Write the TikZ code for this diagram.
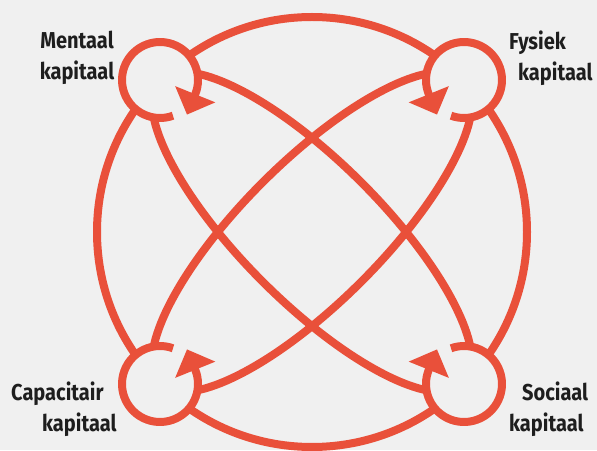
\documentclass[tikz,border=0pt]{standalone}
\usepackage{fontspec}
\newfontfamily\lblfont{Fira Sans}[FakeStretch=0.87]
\usepackage{tikz}
\usetikzlibrary{arrows.meta}
\definecolor{kred}{HTML}{E9503A}
\definecolor{kbg}{HTML}{F0F0F0}
\definecolor{ktext}{HTML}{1E1E1E}

\begin{document}
\begin{tikzpicture}[x=1pt,y=1pt,
		band/.style={draw=kred,line width=8pt},
		loopline/.style={draw=kred,line width=8pt,-{Triangle[length=22pt,width=42pt]}},
		lbl/.style={font=\lblfont\bfseries\fontsize{23}{31}\selectfont,text=ktext,inner sep=0pt}]
			\fill[kbg] (0,0) rectangle (597,450);
			\useasboundingbox (0,0) rectangle (597,450);
			\coordinate (mid) at (312,218);
			\coordinate (men) at (160,370);
			\coordinate (fys) at (464,370);
			\coordinate (cap) at (160,66);
			\coordinate (soc) at (464,66);
			% ring and the two crossing loops
			\draw[band] (mid) circle[radius=215];
			\draw[band,rotate around={-45:(mid)}] (mid) ellipse[x radius=215,y radius=70];
			\draw[band,rotate around={45:(mid)}] (mid) ellipse[x radius=215,y radius=70];
			\foreach \c in {men,fys,cap,soc}{ \fill[kbg] (\c) circle[radius=38]; }
			% the four small loops
			\draw[loopline] ([shift={(-70:38)}]men) arc[start angle=-70,end angle=-382,radius=38] -- ++(-112:22);
			\draw[loopline] ([shift={(250:38)}]fys) arc[start angle=250,end angle=562,radius=38] -- ++(-68:22);
			\draw[loopline] ([shift={(70:38)}]cap) arc[start angle=70,end angle=382,radius=38] -- ++(112:22);
			\draw[loopline] ([shift={(110:38)}]soc) arc[start angle=110,end angle=-202,radius=38] -- ++(68:22);
			\node[lbl,align=center] (mentaal) at (77,392) {Mentaal\\kapitaal};
			\node[lbl,align=left,anchor=west] (fysiek) at (509,392) {Fysiek\\\hspace*{9pt}kapitaal};
			\node[lbl,align=left,anchor=west] (capacitair) at (11,41) {Capacitair\\\hspace*{31pt}kapitaal};
			\node[lbl,align=left,anchor=west] (sociaal) at (509,41) {\hspace*{13pt}Sociaal\\kapitaal};
		\end{tikzpicture}
\end{document}
